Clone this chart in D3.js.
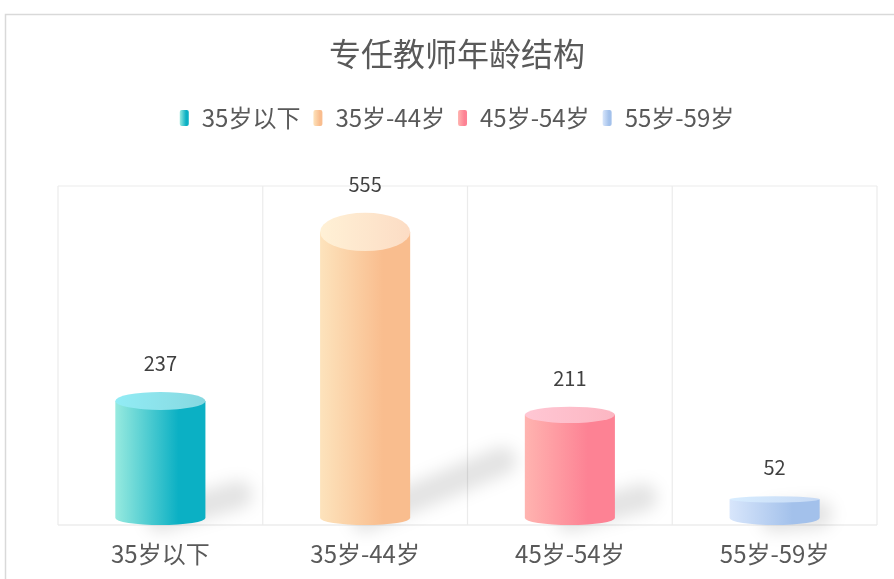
<!DOCTYPE html>
<html>
<head>
<meta charset="utf-8">
<script src="https://cdn.jsdelivr.net/npm/d3@7"></script>
<style>
  body { margin: 0; background: #fff; }
  svg { display: block; font-family: "Noto Sans CJK SC", "Noto Sans", sans-serif; }
</style>
</head>
<body>
<svg id="chart" width="894" height="579"></svg>
<script>
// data
var categories = ["35岁以下", "35岁-44岁", "45岁-54岁", "55岁-59岁"];
var values = [237, 555, 211, 52];
var colorsLeft = ["#97eadf", "#fde3bc", "#ffb4b0", "#d8e6fb"];
var colorsRight = ["#0bb0c4", "#f9bd8e", "#fd8294", "#a3c1eb"];
var colorsTop = ["#86d8e0", "#fcdcc4", "#fcb6c2", "#c6d9f4"];
var title = "专任教师年龄结构";

var svg = d3.select("#chart");

// outer frame
svg.append("path")
  .attr("d", "M5.5,579 L5.5,14.5 L894,14.5")
  .attr("fill", "none").attr("stroke", "#d9d9d9").attr("stroke-width", 1.5);

var plot = {left: 58, right: 877, top: 186, bottom: 525};

var x = d3.scaleBand().domain(categories).range([plot.left, plot.right]);
var y = d3.scaleLinear().domain([0, 600]).range([527, 208]);

var defs = svg.append("defs");
categories.forEach(function(c, i) {
  var g = defs.append("linearGradient").attr("id", "grad" + i)
    .attr("x1", "0%").attr("x2", "100%").attr("y1", "0%").attr("y2", "0%");
  g.append("stop").attr("offset", "0%").attr("stop-color", colorsLeft[i]);
  g.append("stop").attr("offset", "70%").attr("stop-color", colorsRight[i]);
  g.append("stop").attr("offset", "100%").attr("stop-color", colorsRight[i]);
  var t = defs.append("linearGradient").attr("id", "top" + i)
    .attr("x1", "0%").attr("x2", "100%");
  t.append("stop").attr("offset", "0%").attr("stop-color", d3.color(colorsTop[i]).brighter(0.25));
  t.append("stop").attr("offset", "100%").attr("stop-color", colorsTop[i]);
});
defs.append("filter").attr("id", "blur")
  .attr("x", "-50%").attr("y", "-50%").attr("width", "200%").attr("height", "200%")
  .append("feGaussianBlur").attr("stdDeviation", 8);

// grid
var grid = svg.append("g").attr("stroke", "#ebebeb").attr("stroke-width", 1.2).attr("fill", "none");
grid.append("line").attr("x1", plot.left).attr("x2", plot.right).attr("y1", plot.top).attr("y2", plot.top);
grid.append("line").attr("x1", plot.left).attr("x2", plot.right).attr("y1", plot.bottom).attr("y2", plot.bottom)
  .attr("stroke", "#e3e3e3");
categories.concat([null]).forEach(function(c, i) {
  var xx = c === null ? plot.right : x(c);
  grid.append("line").attr("x1", xx).attr("x2", xx).attr("y1", plot.top).attr("y2", plot.bottom);
});

// bars (cylinders)
var bw = x.bandwidth() * 0.44;
var rx = bw / 2;
var ryBottom = 7;
var baseC = plot.bottom - ryBottom;

var shadows = svg.append("g").attr("filter", "url(#blur)");
var bars = svg.append("g");

values.forEach(function(v, i) {
  var cx = x(categories[i]) + x.bandwidth() / 2;
  var left = cx - rx, right = cx + rx;
  var topC = y(v);
  var h = baseC - topC;
  var ryTop = 2 + h * 0.06;

  // shadow cast up and to the right
  shadows.append("line")
    .attr("x1", cx).attr("y1", baseC)
    .attr("x2", right - 8 + h * 0.35).attr("y2", baseC - h * 0.2)
    .attr("stroke", "#000").attr("stroke-width", 28)
    .attr("stroke-linecap", "round")
    .attr("opacity", 0.11);

  bars.append("path")
    .attr("d", "M" + left + "," + topC + " L" + left + "," + baseC +
      " A" + rx + "," + ryBottom + " 0 0 0 " + right + "," + baseC +
      " L" + right + "," + topC + " Z")
    .attr("fill", "url(#grad" + i + ")");

  bars.append("ellipse")
    .attr("cx", cx).attr("cy", topC).attr("rx", rx).attr("ry", ryTop)
    .attr("fill", "url(#top" + i + ")");

  svg.append("text")
    .attr("x", cx).attr("y", topC - ryTop - 21)
    .attr("text-anchor", "middle")
    .attr("font-size", 20).attr("fill", "#404040")
    .text(v);
});

// category labels
categories.forEach(function(c) {
  svg.append("text")
    .attr("x", x(c) + x.bandwidth() / 2).attr("y", 563)
    .attr("text-anchor", "middle")
    .attr("font-size", 24).attr("fill", "#595959")
    .text(c);
});

// title
svg.append("text")
  .attr("x", 457).attr("y", 66)
  .attr("text-anchor", "middle")
  .attr("font-size", 32).attr("fill", "#595959")
  .text(title);

// legend
var legend = svg.append("g");
var lx = 0;
categories.forEach(function(c, i) {
  var item = legend.append("g").attr("transform", "translate(" + lx + ",0)");
  item.append("rect").attr("x", 0).attr("y", -8).attr("width", 9).attr("height", 16)
    .attr("rx", 2).attr("fill", "url(#grad" + i + ")");
  var t = item.append("text").attr("x", 22).attr("y", 9)
    .attr("font-size", 24).attr("fill", "#595959").text(c);
  lx += 22 + t.node().getComputedTextLength() + 13;
});
var legendW = lx - 13;
legend.attr("transform", "translate(" + (457 - legendW / 2) + ",118)");
</script>
</body>
</html>
